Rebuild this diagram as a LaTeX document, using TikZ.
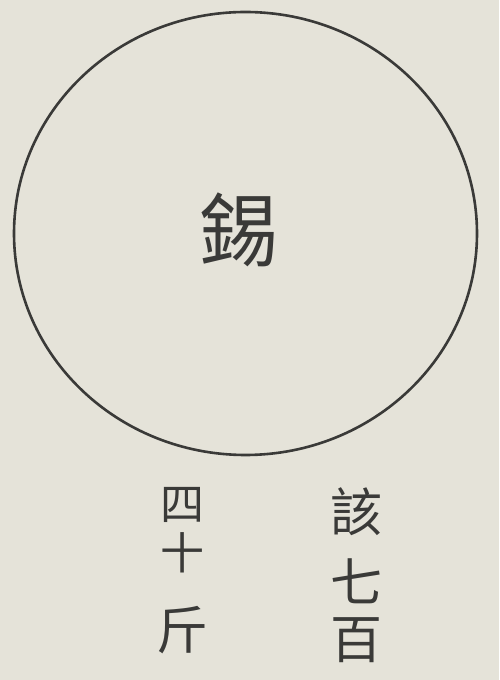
\documentclass[tikz,border=0pt]{standalone}
\usepackage{fontspec}
\newfontfamily\cjk{Noto Sans CJK SC}
\definecolor{paper}{HTML}{E5E3D9}
\definecolor{ink}{HTML}{3A3A38}
\begin{document}
\begin{tikzpicture}[x=1pt,y=1pt,
  big/.style={text=ink,font=\cjk\fontsize{80}{80}\selectfont,inner sep=0pt},
  small/.style={text=ink,font=\cjk\fontsize{52}{52}\selectfont,inner sep=0pt},
  smaller/.style={text=ink,font=\cjk\fontsize{44}{44}\selectfont,inner sep=0pt}]
\fill[paper] (0,0) rectangle (499,680);
\useasboundingbox (0,0) rectangle (499,680);
\draw[ink,line width=2.6pt] (245.5,446.5) ellipse [x radius=231.5,y radius=221.5];
\node[big] (xi) at (238,450) {錫};
\node[small] (r1) at (356,168) {該};
\node[small] (r2) at (356,99) {七};
\node[small] (r3) at (356,40) {百};
\node[smaller] (l1) at (182,175) {四};
\node[smaller] (l2) at (182,127) {十};
\node[small] (l3) at (182,50) {斤};
\end{tikzpicture}
\end{document}
